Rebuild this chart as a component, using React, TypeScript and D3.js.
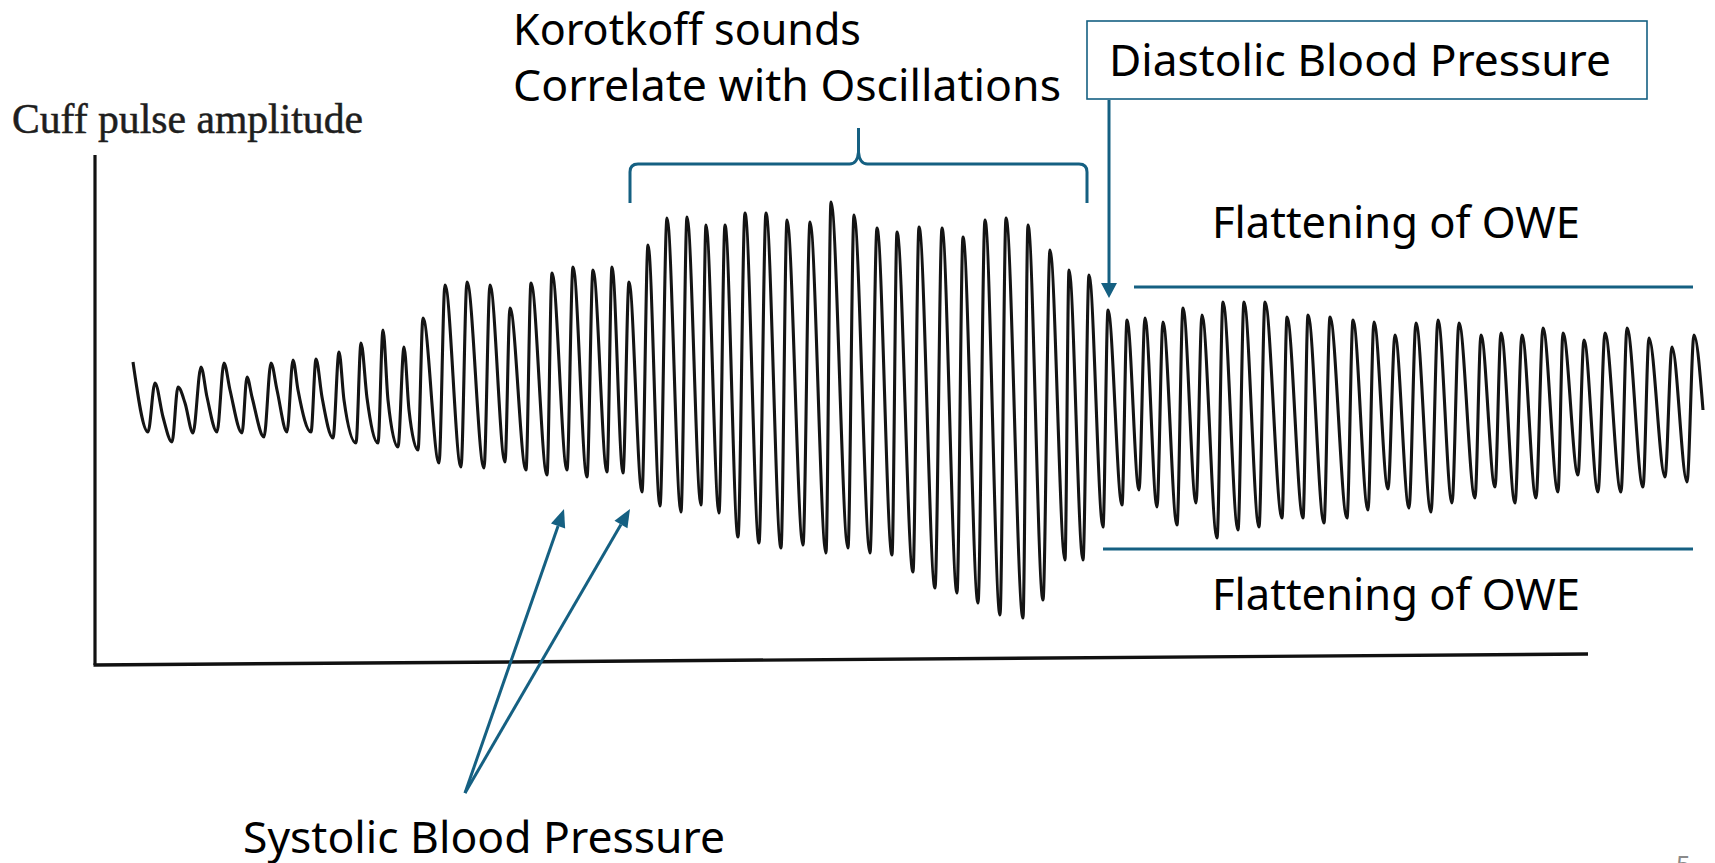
import { useEffect, useRef } from 'react';
import * as d3 from 'd3';

// Oscillometric cuff trace.
// time in samples, amplitude in arbitrary cuff units (0 = time axis)
const TROUGH_T = [
  53, 77, 98, 122, 147, 169, 192, 216, 238, 261,
  283, 303, 323, 344, 366, 389, 410, 431, 452, 472,
  492, 512, 528, 547, 565, 586, 606, 624, 643, 664,
  686, 708, 731, 753, 775, 797, 818, 840, 862, 883,
  905, 928, 948, 970, 988, 1008, 1027, 1044, 1062, 1082,
  1101, 1122, 1143, 1164, 1187, 1208, 1229, 1252, 1273, 1293,
  1314, 1336, 1357, 1380, 1400, 1420, 1441, 1463, 1483, 1503,
  1526, 1548, 1570, 1592,
];
const TROUGH_A = [
  233, 223, 232, 233, 232, 228, 233, 233, 227, 222,
  222, 218, 215, 202, 198, 197, 203, 195, 190, 195,
  188, 193, 192, 173, 159, 153, 160, 152, 128, 122,
  117, 120, 112, 117, 112, 110, 93, 77, 72, 62,
  50, 47, 65, 105, 105, 138, 160, 175, 158, 140,
  162, 127, 135, 138, 147, 147, 142, 147, 155, 176,
  157, 153, 162, 167, 178, 162, 167, 173, 190, 173,
  173, 178, 188, 183,
];
const PEAK_T = [
  60, 83, 106, 129, 152, 176, 198, 221, 244, 266,
  288, 309, 328, 350, 372, 395, 415, 436, 457, 478,
  498, 517, 534, 553, 572, 592, 611, 630, 650, 671,
  692, 715, 736, 759, 782, 802, 824, 847, 868, 890,
  911, 933, 955, 974, 994, 1013, 1032, 1050, 1068, 1088,
  1107, 1128, 1149, 1170, 1192, 1213, 1235, 1258, 1279, 1300,
  1321, 1343, 1364, 1386, 1406, 1427, 1448, 1468, 1489, 1510,
  1532, 1554, 1577, 1599,
];
const PEAK_A = [
  282, 278, 298, 302, 288, 302, 305, 306, 313, 322,
  335, 318, 347, 380, 383, 380, 357, 382, 392, 398,
  395, 398, 383, 420, 447, 448, 440, 440, 452, 452,
  445, 443, 463, 450, 437, 433, 438, 437, 428, 445,
  447, 440, 415, 395, 390, 355, 345, 347, 343, 357,
  350, 363, 363, 363, 348, 350, 348, 345, 343, 330,
  342, 345, 342, 330, 332, 330, 337, 332, 325, 332,
  337, 327, 318, 330,
];
// dicrotic shoulder on the falling limb of the first pulses
const SHOULDER_T = [68, 90, 112, 135, 157, 182, 203, 227, 249, 272, 293, 314];
const SHOULDER_A = [248, 262, 268, 275, 268, 275, 275, 268, 265, 267, 265, 255];

const TRACE_START = [38, 303];
const TRACE_END = [1608, 255];

const X_AXIS_END = 1493;
const X_AXIS_RISE = 11;
const Y_AXIS_TOP = 510;

// annotation anchors in the same units
const BRACKET = { t0: 535, t1: 992, ends: 462, bar: 501, tip: 537 };
const DIASTOLIC_T = 1014;
const DIASTOLIC_PEAK = 45; // index of the pulse the arrow points at
const SYSTOLIC_TIPS = [469, 535];
const SYSTOLIC_TIP_A = 156;
const SYSTOLIC_FROM = [370, -128];
const FLAT_UPPER = { t0: 1039, t1: 1598, a: 378 };
const FLAT_LOWER = { t0: 1008, t1: 1598, a: 116 };

const TEAL = '#156082';
const SANS = '"Noto Sans", "Liberation Sans", sans-serif';

export default function App() {
  const svgRef = useRef<SVGSVGElement>(null);

  useEffect(() => {
    if (!svgRef.current) return;
    const svg = d3.select(svgRef.current);
    svg.selectAll('*').remove();

    const x = d3.scaleLinear().domain([0, X_AXIS_END]).range([95, 1588]);
    const y = d3.scaleLinear().domain([0, Y_AXIS_TOP]).range([665, 155]);

    svg.append('rect').attr('width', 1715).attr('height', 863).attr('fill', '#fff');

    // axes
    svg.append('line')
      .attr('x1', x(0)).attr('y1', y(Y_AXIS_TOP))
      .attr('x2', x(0)).attr('y2', y(0))
      .attr('stroke', '#111').attr('stroke-width', 3.2);
    svg.append('line')
      .attr('x1', x(0) - 1.5).attr('y1', y(0))
      .attr('x2', x(X_AXIS_END)).attr('y2', y(X_AXIS_RISE))
      .attr('stroke', '#111').attr('stroke-width', 3.4);

    svg.append('text')
      .attr('x', 12).attr('y', 133)
      .attr('font-family', '"Liberation Serif", "DejaVu Serif", serif')
      .attr('font-size', 42)
      .attr('fill', '#1e1e1e')
      .attr('stroke', '#1e1e1e')
      .attr('stroke-width', 0.5)
      .attr('textLength', 351)
      .attr('lengthAdjust', 'spacingAndGlyphs')
      .text('Cuff pulse amplitude');

    // trace
    const pts: [number, number][] = [[TRACE_START[0], TRACE_START[1]]];
    TROUGH_T.forEach((t, i) => {
      pts.push([t, TROUGH_A[i]]);
      pts.push([PEAK_T[i], PEAK_A[i]]);
      if (i < SHOULDER_T.length) pts.push([SHOULDER_T[i], SHOULDER_A[i]]);
    });
    pts.push([TRACE_END[0], TRACE_END[1]]);

    const line = d3.line<[number, number]>()
      .x((d) => x(d[0]))
      .y((d) => y(d[1]))
      .curve(d3.curveMonotoneX);

    svg.append('path')
      .attr('d', line(pts) || '')
      .attr('fill', 'none')
      .attr('stroke', '#141414')
      .attr('stroke-width', 3.1)
      .attr('stroke-linejoin', 'round');

    // helpers
    const arrow = (x1: number, y1: number, x2: number, y2: number, len: number, half: number) => {
      const ang = Math.atan2(y2 - y1, x2 - x1);
      const bx = x2 - Math.cos(ang) * len;
      const by = y2 - Math.sin(ang) * len;
      svg.append('line')
        .attr('x1', x1).attr('y1', y1).attr('x2', bx).attr('y2', by)
        .attr('stroke', TEAL).attr('stroke-width', 3);
      const px = -Math.sin(ang) * half;
      const py = Math.cos(ang) * half;
      svg.append('polygon')
        .attr('points', `${x2},${y2} ${bx + px},${by + py} ${bx - px},${by - py}`)
        .attr('fill', TEAL);
    };

    const label = (txt: string, lx: number, ly: number, w: number) => {
      svg.append('text')
        .attr('x', lx).attr('y', ly)
        .attr('font-family', SANS)
        .attr('font-size', 44)
        .attr('fill', '#000')
        .attr('textLength', w)
        .attr('lengthAdjust', 'spacingAndGlyphs')
        .text(txt);
    };

    // Korotkoff bracket
    const bl = x(BRACKET.t0), br = x(BRACKET.t1), bm = x((BRACKET.t0 + BRACKET.t1) / 2);
    const yEnd = y(BRACKET.ends), yBar = y(BRACKET.bar), yTip = y(BRACKET.tip);
    const p = d3.path();
    p.moveTo(bl, yEnd);
    p.lineTo(bl, yBar + 8);
    p.quadraticCurveTo(bl, yBar, bl + 8, yBar);
    p.lineTo(bm - 9, yBar);
    p.quadraticCurveTo(bm - 1, yBar, bm, yBar - 12);
    p.lineTo(bm, yTip);
    p.moveTo(bm, yBar - 12);
    p.quadraticCurveTo(bm + 1, yBar, bm + 9, yBar);
    p.lineTo(br - 8, yBar);
    p.quadraticCurveTo(br, yBar, br, yBar + 8);
    p.lineTo(br, yEnd);
    svg.append('path')
      .attr('d', p.toString())
      .attr('fill', 'none')
      .attr('stroke', TEAL)
      .attr('stroke-width', 3)
      .attr('stroke-linejoin', 'round');

    label('Korotkoff sounds', 513, 45, 348);
    label('Correlate with Oscillations', 513, 101, 548);

    // Diastolic box + arrow
    svg.append('rect')
      .attr('x', 1087).attr('y', 21)
      .attr('width', 560).attr('height', 78)
      .attr('fill', '#fff')
      .attr('stroke', TEAL).attr('stroke-width', 1.6);
    label('Diastolic Blood Pressure', 1109, 76, 502);
    const dx = x(DIASTOLIC_T);
    arrow(dx, 100, dx, y(PEAK_A[DIASTOLIC_PEAK]) - 12, 15, 8);

    // flattening lines
    [FLAT_UPPER, FLAT_LOWER].forEach((f) => {
      svg.append('line')
        .attr('x1', x(f.t0)).attr('x2', x(f.t1))
        .attr('y1', y(f.a)).attr('y2', y(f.a))
        .attr('stroke', TEAL).attr('stroke-width', 3);
    });
    label('Flattening of OWE', 1212, 238, 368);
    label('Flattening of OWE', 1212, 610, 368);

    // systolic arrows
    const sx = x(SYSTOLIC_FROM[0]), sy = y(SYSTOLIC_FROM[1]);
    SYSTOLIC_TIPS.forEach((t) => {
      arrow(sx, sy, x(t), y(SYSTOLIC_TIP_A), 18, 7.5);
    });
    label('Systolic Blood Pressure', 243, 853, 482);

    // slide number
    svg.append('text')
      .attr('x', 1676).attr('y', 874)
      .attr('font-family', SANS)
      .attr('font-size', 26)
      .attr('fill', '#8a8a8a')
      .text('5');
  }, []);

  return (
    <svg
      ref={svgRef}
      width={1715}
      height={863}
      style={{ position: 'absolute', left: 0, top: 0, display: 'block' }}
    />
  );
}
